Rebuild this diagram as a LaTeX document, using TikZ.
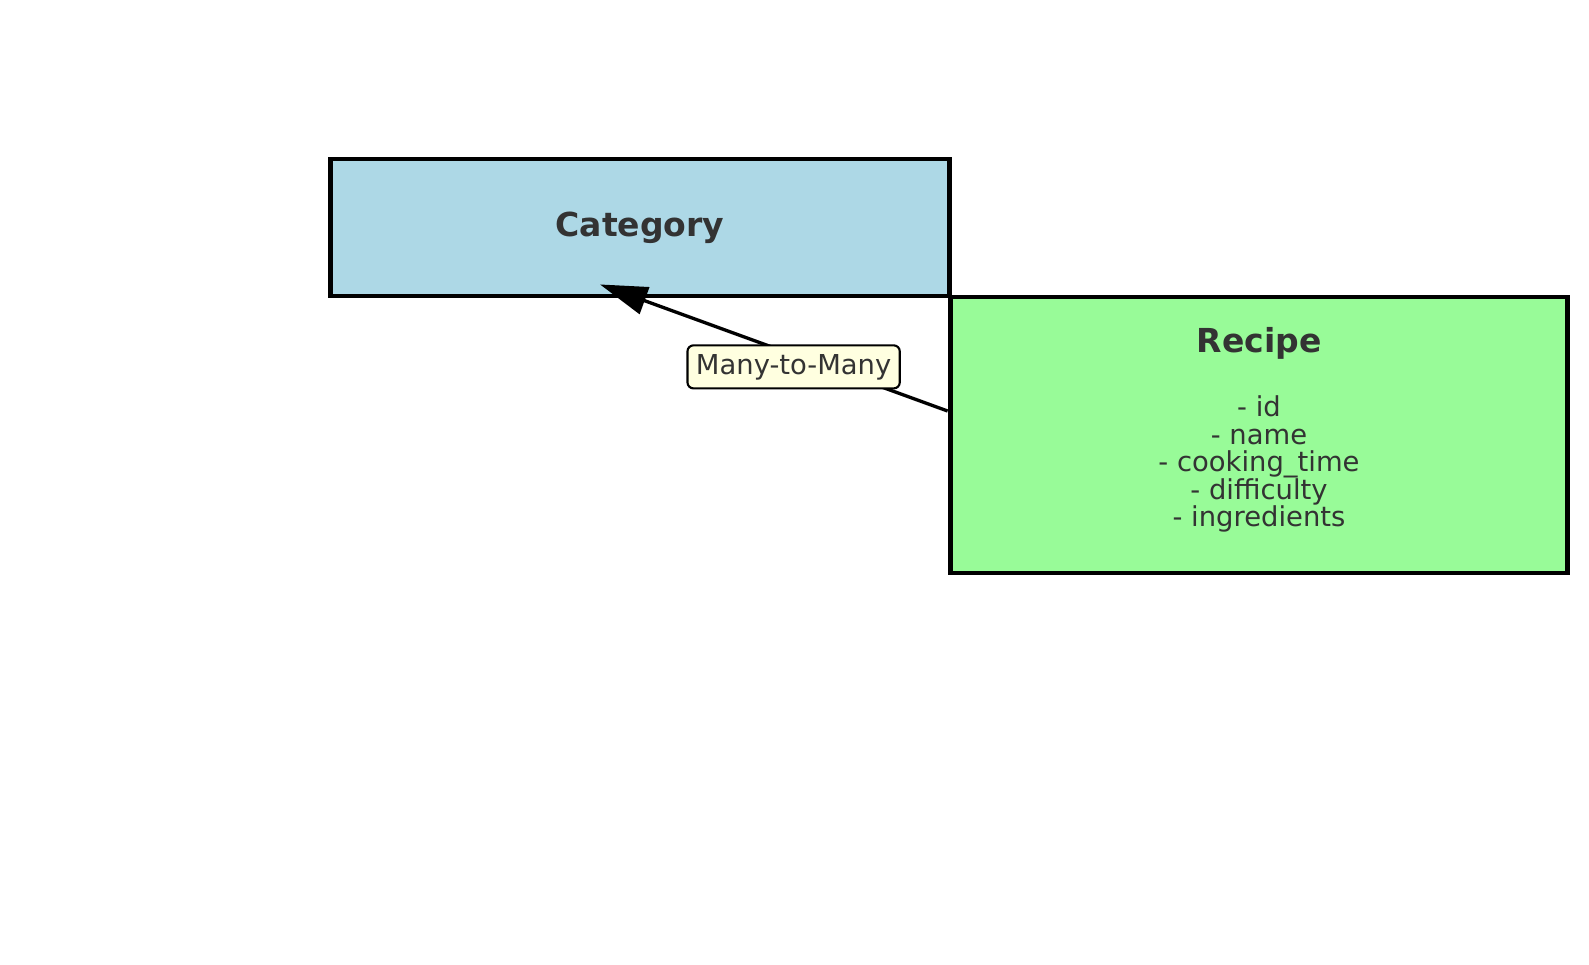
\documentclass[tikz,border=0pt]{standalone}
\usepackage{fontspec}
\setmainfont{DejaVu Sans}
\usetikzlibrary{arrows.meta, positioning, calc}
\definecolor{catblue}{HTML}{ADD8E6}
\definecolor{recgreen}{HTML}{98FB98}
\definecolor{lblyellow}{HTML}{FFFFE0}
\definecolor{txtgray}{HTML}{333333}
\newcommand{\titlefont}{\fontsize{18.8}{22}\selectfont\bfseries}
\newcommand{\fieldfont}{\fontsize{15.6}{15.6}\selectfont}
\tikzset{
    entity/.style={
        rectangle, draw=black, line width=2.8pt, text=txtgray, align=center,
        inner sep=0pt, font=\fieldfont
    },
    entity_blue/.style={
        entity, fill=catblue, minimum width=12.4cm, minimum height=2.74cm
    },
    entity_green/.style={
        entity, fill=recgreen, minimum width=12.36cm, minimum height=5.52cm
    },
    relation/.style={
        line width=1.9pt, -{Triangle[length=27pt, width=16pt]}, draw=black
    },
    rel_label/.style={
        rectangle, rounded corners=3.4pt, draw=black, line width=1.2pt, fill=lblyellow,
        text=txtgray, inner xsep=4.8pt, inner ysep=0pt, minimum height=24.5pt, font=\fieldfont
    }
}
\begin{document}
\begin{tikzpicture}[x=0.02cm, y=-0.02cm]
    \useasboundingbox (0,0) rectangle (1589,964);
    \node[entity_blue, font=\titlefont] (category) at (640, 227.5) {Category};
    \node[entity_green, text depth=9pt] (recipe) at (1259, 435) {{\titlefont Recipe}\\[19.7pt]
        - id\\ - name\\ - cooking\_time\\ - difficulty\\ - ingredients};

    \draw[relation] ($(recipe.west)+(0,-24)$) -- node[rel_label, pos=0.443, yshift=-6.8pt] (manytomany) {Many-to-Many} ($(category.south)+(-40,-14)$);
\end{tikzpicture}
\end{document}
